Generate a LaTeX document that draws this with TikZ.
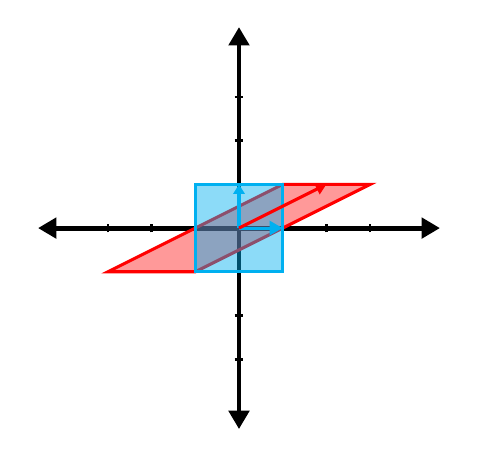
\documentclass[tikz,border=0pt]{standalone}
\usetikzlibrary{arrows.meta}
\begin{document}
\begin{tikzpicture}[x=1cm,y=1cm]
\definecolor{color0}{HTML}{000000}
\definecolor{color1}{HTML}{FF0000}
\definecolor{color2}{HTML}{00B0F0}
\useasboundingbox (-5.47,-5.58) rectangle (5.63,5.22);
% axes
\draw[color0,line width=3.2pt,{Triangle[length=0.42cm,width=0.46cm]}-{Triangle[length=0.42cm,width=0.46cm]}] (-4.6,0) -- (4.6,0);
\draw[color0,line width=3.2pt,{Triangle[length=0.42cm,width=0.46cm]}-{Triangle[length=0.42cm,width=0.46cm]}] (0,-4.6) -- (0,4.6);
\foreach \t in {-3,-2,-1,1,2,3}{
  \draw[color0,line width=1.8pt] (\t,-0.1) -- (\t,0.1);
  \draw[color0,line width=1.8pt] (-0.1,\t) -- (0.1,\t);
}
% sheared square
\fill[color1,opacity=0.4] (-3,-1) -- (-1,-1) -- (3,1) -- (1,1) -- cycle;
\draw[color1,line width=2pt,line join=miter] (-3,-1) -- (-1,-1) -- (3,1) -- (1,1) -- cycle;
% unit square
\fill[color2,opacity=0.45] (-1,-1) rectangle (1,1);
\draw[color2,line width=2.2pt] (-1,-1) rectangle (1,1);
% basis vectors
\draw[color2,line width=2pt,-{Triangle[length=0.3cm,width=0.32cm]}] (0,0) -- (1,0);
\draw[color2,line width=2pt,-{Triangle[length=0.22cm,width=0.26cm]}] (0,0) -- (0,1);
\draw[color1,line width=2pt,-{Triangle[length=0.24cm,width=0.26cm]}] (0,0) -- (2,1);
\end{tikzpicture}
\end{document}
